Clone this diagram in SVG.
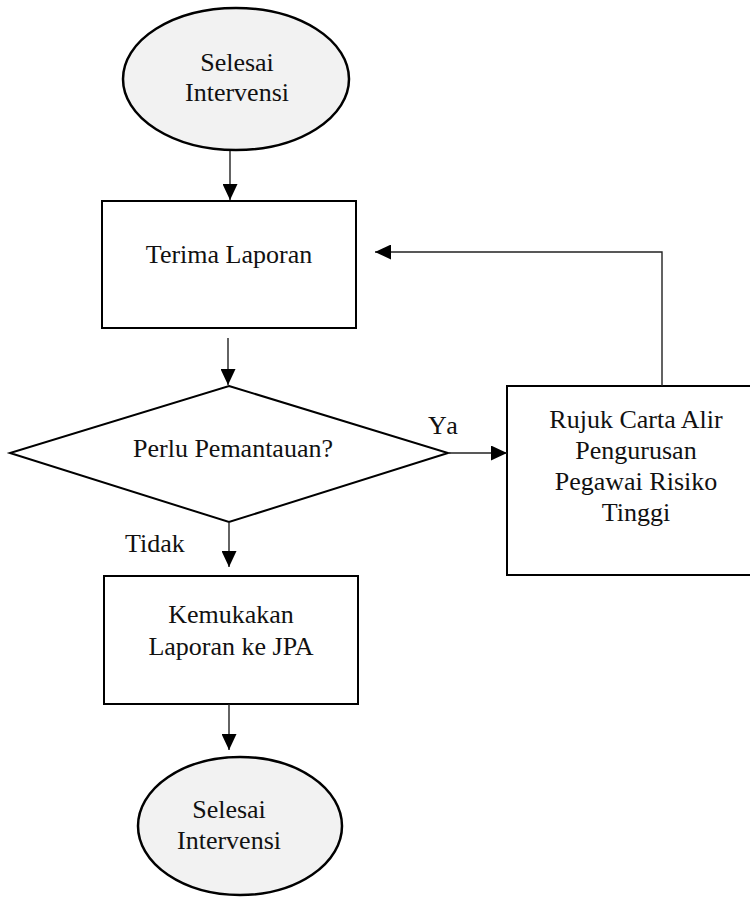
<svg xmlns="http://www.w3.org/2000/svg" width="750" height="897" viewBox="0 0 750 897">
  <style>
    .node { fill: #ffffff; stroke: #000000; stroke-width: 2; }
    .term { fill: #f2f2f2; stroke: #000000; stroke-width: 2.5; }
    .lbl { font-family: "Liberation Serif", "Times New Roman", serif; font-size: 26px; fill: #111111; }
    .mid { text-anchor: middle; }
    .edge { fill: none; stroke: #222222; stroke-width: 1.4; }
  </style>
  <defs>
    <marker id="arrow" markerUnits="userSpaceOnUse" markerWidth="16" markerHeight="15" refX="16" refY="7.5" orient="auto">
      <path d="M0,0 L16,7.5 L0,15 Z" fill="#000000"/>
    </marker>
  </defs>
  <rect width="750" height="897" fill="#ffffff"/>

  <g id="start">
    <ellipse class="term" cx="236" cy="79" rx="113" ry="71"/>
    <text class="lbl mid" x="237" y="71">Selesai</text>
    <text class="lbl mid" x="237" y="101">Intervensi</text>
  </g>

  <g id="terima-laporan">
    <rect class="node" x="102" y="201" width="254" height="127"/>
    <text class="lbl mid" x="229" y="263">Terima Laporan</text>
  </g>

  <g id="perlu-pemantauan">
    <polygon class="node" points="229,386 448,453 229,522 10,453"/>
    <text class="lbl mid" x="233" y="457">Perlu Pemantauan?</text>
  </g>

  <g id="rujuk-carta">
    <rect class="node" x="507" y="386" width="259" height="189"/>
    <text class="lbl mid" x="636" y="428">Rujuk Carta Alir</text>
    <text class="lbl mid" x="636" y="459">Pengurusan</text>
    <text class="lbl mid" x="636" y="490">Pegawai Risiko</text>
    <text class="lbl mid" x="636" y="521">Tinggi</text>
  </g>

  <g id="kemukakan-laporan">
    <rect class="node" x="104" y="576" width="254" height="128"/>
    <text class="lbl mid" x="231" y="623">Kemukakan</text>
    <text class="lbl mid" x="231" y="655">Laporan ke JPA</text>
  </g>

  <g id="end">
    <ellipse class="term" cx="240" cy="826" rx="102" ry="69"/>
    <text class="lbl mid" x="229" y="818">Selesai</text>
    <text class="lbl mid" x="229" y="849">Intervensi</text>
  </g>

  <g id="connectors">
    <line class="edge" x1="230" y1="151" x2="230" y2="200" marker-end="url(#arrow)"/>
    <line class="edge" x1="228" y1="338" x2="228" y2="385" marker-end="url(#arrow)"/>
    <line class="edge" x1="448" y1="453" x2="507" y2="453" marker-end="url(#arrow)"/>
    <polyline class="edge" points="662,386 662,252 375,252" marker-end="url(#arrow)"/>
    <line class="edge" x1="229" y1="522" x2="229" y2="567" marker-end="url(#arrow)"/>
    <line class="edge" x1="229" y1="704" x2="229" y2="750" marker-end="url(#arrow)"/>
    <text class="lbl" x="428" y="434" letter-spacing="2">Ya</text>
    <text class="lbl" x="125" y="552">Tidak</text>
  </g>
</svg>
